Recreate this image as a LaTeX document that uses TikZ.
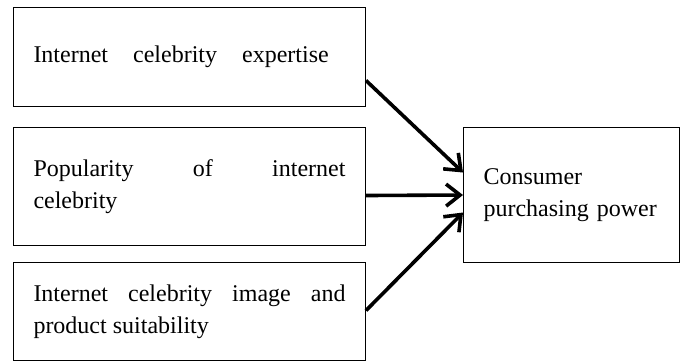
\documentclass[tikz,border=0pt]{standalone}
\usepackage{fontspec}
\setmainfont{Liberation Serif}
\usetikzlibrary{arrows.meta}

\begin{document}
\begin{tikzpicture}[x=0.5pt, y=-0.5pt,
    every node/.style={font=\fontsize{12pt}{16pt}\selectfont},
    factor/.style={draw, line width=0.5pt, anchor=north west, text width=156pt, align=justify, inner xsep=10pt, inner ysep=0pt},
    result/.style={draw, line width=0.5pt, anchor=north west, text width=88pt, align=left, inner xsep=10pt, inner ysep=0pt, minimum height=67.5pt},
    link/.style={line width=1.8pt, -{Straight Barb[length=7pt, width=11pt]}}]
      \useasboundingbox (0, 0) rectangle (684, 361);
      % Factors
      \node[factor, minimum height=49.5pt] (expertise) at (13, 7) {\spaceskip=12.5pt Internet celebrity expertise};
      \node[factor, minimum height=59pt] (popularity) at (13, 127) {Popularity of internet\linebreak celebrity};
      \node[factor, minimum height=49pt] (suitability) at (13, 262) {Internet celebrity image and\linebreak product suitability};
      % Result
      \node[result] (power) at (463, 127) {Consumer\\purchasing power};
      \draw[link] ([yshift=-11.75pt]expertise.east) -- ([yshift=11.25pt]power.west);
      \draw[link] ([yshift=-4.5pt]popularity.east) -- ([yshift=0pt]power.west);
      \draw[link] ([yshift=0.5pt]suitability.east) -- ([yshift=-8.75pt]power.west);
\end{tikzpicture}
\end{document}
